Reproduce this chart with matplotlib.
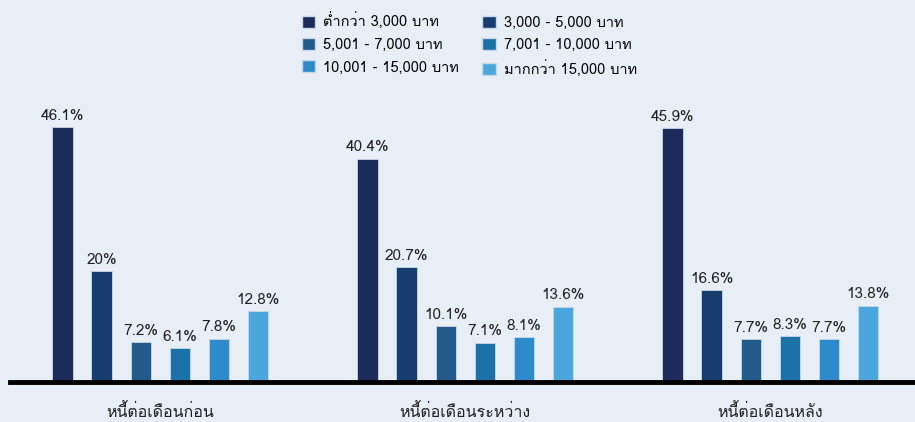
import matplotlib
matplotlib.use("Agg")
import matplotlib.pyplot as plt
import numpy as np
from matplotlib import font_manager
from matplotlib.ft2font import FT2Font
from matplotlib.patches import Patch

# Find an installed family that has Thai glyphs
thai_family = None
for f in font_manager.fontManager.ttflist:
    try:
        if 0x0E01 in FT2Font(f.fname).get_charmap():
            thai_family = f.name
            break
    except Exception:
        pass
families = [thai_family, "DejaVu Sans"] if thai_family else ["DejaVu Sans"]
plt.rcParams["font.family"] = families

# Data
groups = ["หนี้ต่อเดือนก่อน", "หนี้ต่อเดือนระหว่าง", "หนี้ต่อเดือนหลัง"]
series = ["ต่ำกว่า 3,000 บาท", "3,000 - 5,000 บาท", "5,001 - 7,000 บาท",
          "7,001 - 10,000 บาท", "10,001 - 15,000 บาท", "มากกว่า 15,000 บาท"]
values = [
    [46.1, 40.4, 45.9],
    [20.0, 20.7, 16.6],
    [7.2, 10.1, 7.7],
    [6.1, 7.1, 8.3],
    [7.8, 8.1, 7.7],
    [12.8, 13.6, 13.8],
]
labels = [
    ["46.1%", "40.4%", "45.9%"],
    ["20%", "20.7%", "16.6%"],
    ["7.2%", "10.1%", "7.7%"],
    ["6.1%", "7.1%", "8.3%"],
    ["7.8%", "8.1%", "7.7%"],
    ["12.8%", "13.6%", "13.8%"],
]
colors = ["#1d2b5a", "#173d70", "#225a8a", "#1a72a8", "#2e8bcb", "#4aa6dc"]

bg = "#e7eef5"
fig = plt.figure(figsize=(9.15, 4.22), dpi=100, facecolor=bg)
ax = fig.add_axes([0.011, 0.095, 0.989, 0.655], facecolor=bg)

x = np.arange(len(groups))
pitch = 0.128
width = 0.066
for i, (vals, c) in enumerate(zip(values, colors)):
    pos = x + (i - 2.5) * pitch
    bars = ax.bar(pos, vals, width, color=c, edgecolor="#c9d8e8", linewidth=0.6)
    for b, lab in zip(bars, labels[i]):
        ax.text(b.get_x() + b.get_width() / 2, b.get_height() + 0.8, lab,
                ha="center", va="bottom", fontsize=11, color="#222222")

ax.set_xlim(-0.492, 2.475)
ax.set_ylim(0, 50)
ax.set_xticks(x)
ax.set_xticklabels(groups, fontsize=11.5, color="#222222")
ax.tick_params(axis="x", length=0, pad=16)
ax.set_yticks([])
for s in ["top", "right", "left"]:
    ax.spines[s].set_visible(False)
ax.spines["bottom"].set_linewidth(3.5)
ax.spines["bottom"].set_color("black")

# legend is filled row by row in the original
order = [0, 2, 4, 1, 3, 5]
handles = [Patch(facecolor=colors[k], edgecolor="#c9d8e8") for k in order]
fig.legend(handles, [series[k] for k in order], loc="upper center",
           bbox_to_anchor=(0.513, 1.0), ncol=2, frameon=False, fontsize=10.5,
           handlelength=0.9, handleheight=0.9, columnspacing=1.6,
           labelspacing=0.55, handletextpad=0.55)

fig.savefig("out.png", dpi=100, facecolor=bg)
